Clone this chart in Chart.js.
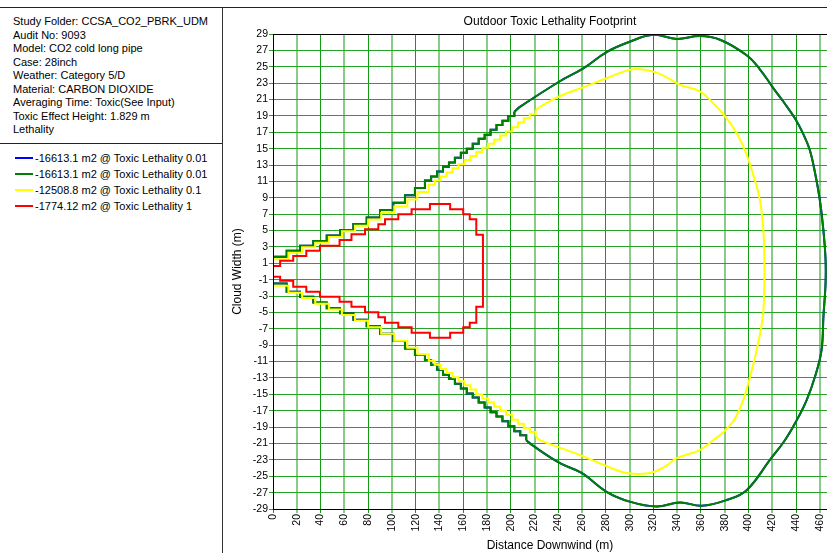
<!DOCTYPE html>
<html>
<head>
<meta charset="utf-8">
<script src="https://cdn.jsdelivr.net/npm/chart.js@4/dist/chart.umd.min.js"></script>
<style>
body{margin:0;background:#fff;font-family:"Liberation Sans",Arial,sans-serif;}
#wrap{position:relative;width:827px;height:553px;overflow:hidden;background:#fff}
#topline{position:absolute;left:0;top:7px;width:827px;height:1px;background:#222}
#panel{position:absolute;left:0;top:8px;width:222px;height:545px;border-right:1px solid #333}
#info{padding:7px 0 0 13px;height:128px;font-size:11px;line-height:13.5px;color:#000;border-bottom:1px solid #222}
#legend{padding:6px 0 0 15px;font-size:11px;line-height:16px;color:#000}
.swatch{display:inline-block;width:18px;height:2px;vertical-align:middle;margin-right:2px;position:relative;top:-1px}
#chart-div{position:absolute;left:224px;top:8px;width:603px;height:545px}
</style>
</head>
<body>
<div id="wrap">
  <div id="topline"></div>
  <div id="panel">
    <div id="info"></div>
    <div id="legend"></div>
  </div>
  <div id="chart-div"><canvas id="footprintChart" width="603" height="545"></canvas></div>
</div>
<script>
/* ---------------------------- Data --------------------------------------------- */

const infoLines = ['Study Folder: CCSA_CO2_PBRK_UDM','Audit No: 9093','Model: CO2 cold long pipe','Case: 28inch',
    'Weather: Category 5/D','Material: CARBON DIOXIDE','Averaging Time: Toxic(See Input)','Toxic Effect Height: 1.829 m','Lethality']

const seriesLabels = ['-16613.1 m2 @ Toxic Lethality 0.01','-16613.1 m2 @ Toxic Lethality 0.01',
    '-12508.8 m2 @ Toxic Lethality 0.1','-1774.12 m2 @ Toxic Lethality 1']
const seriesColors = ['#0000ff','#008000','#ffff00','#ff0000']

const xTicks = [0,20,40,60,80,100,120,140,160,180,200,220,240,260,280,300,320,340,360,380,400,420,440,460]
const yTicks = [-29,-27,-25,-23,-21,-19,-17,-15,-13,-11,-9,-7,-5,-3,-1,1,3,5,7,9,11,13,15,17,19,21,23,25,27,29]

// 0.01 lethality (green, blue lies under it)
const greenUpX  = [0,11.5,22.7,33.9,45.2,56.4,67.6,78.8,90,101.2,111,119.4,127.8,133,138,143,148,153,158,163,168,173,178,183,188,193,198,203]
const greenUpY  = [1.81,2.54,3.15,3.72,4.4,5.07,5.8,6.6,7.5,8.4,9.3,10.2,11.1,11.6,12.2,12.8,13.3,13.9,14.5,15.0,15.6,16.2,16.7,17.3,17.9,18.4,19.0,19.5]
const greenLowX = [0,11.5,22.7,33.9,45.2,56.4,67.6,78.8,90,101.2,111,119.4,127.8,133,138,143,148,153,158,163,168,173,178,183,188,193,198,203,208,213]
const greenLowY = [-1.45,-2.46,-3.07,-3.8,-4.5,-5.1,-5.9,-6.7,-7.6,-8.5,-9.4,-10.2,-10.8,-11.4,-12.0,-12.6,-13.1,-13.7,-14.3,-14.9,-15.4,-16.0,-16.6,-17.2,-17.7,-18.3,-18.9,-19.5,-20.0,-20.6]
const greenCurveX = [207.7,241,261,280.6,300,320,339.5,359,376,398.4,410,420.8,430,439,446,451.6,456,460,463,464.8,
    464.8,463,461.4,456,448.9,440,430.6,418,398.4,381.6,360.5,342.3,322.7,300,280.6,259.6,241.4,219]
const greenCurveY = [20.1,23.2,24.8,26.8,28.06,28.9,28.4,28.75,28.3,26.4,24.6,22.4,20.6,18.7,16.8,14.8,12,8.7,5,1.4,
    -1.4,-5.5,-9.6,-12.8,-15.7,-18.3,-20.6,-23,-26.7,-27.9,-28.6,-28.2,-28.7,-28.1,-26.9,-24.6,-23.4,-21.3]

// 0.1 lethality (yellow)
const yellowUpX  = [0,13,24.5,35.5,47,58,69,80,91,102,113,121.5,131,136,141,146,151,156,161,166,171,176,181,186,191,196,201,206,211,216,221]
const yellowUpY  = [1.5,2.3,2.95,3.5,4.2,4.9,5.6,6.35,7.15,7.95,8.8,9.7,10.6,11.1,11.6,12.1,12.6,13.1,13.6,14.1,14.6,15.1,15.6,16.1,16.6,17.1,17.6,18.2,18.7,19.2,19.7]
const yellowLowX = [0,13,24.5,35.5,47,58,69,80,91,102,113,121.5,131,136,141,146,151,156,161,166,171,176,181,186,191,196,201,206,211,216,221]
const yellowLowY = [-1.75,-2.6,-3.25,-3.95,-4.65,-5.3,-6.0,-6.8,-7.6,-8.45,-9.3,-10.1,-10.9,-11.4,-11.9,-12.4,-12.9,-13.4,-13.9,-14.4,-15.0,-15.5,-16.0,-16.5,-17.0,-17.5,-18.1,-18.6,-19.1,-19.6,-20.1]
const yellowCurveX = [224.6,241,261,280.6,303,320,330,342.3,359,370,381.6,390,397,404,409.6,412.5,413.3,
    413.3,412,406.8,401,395.5,388,379,370.3,359,339.5,330,317,297.5,277.8,258,241,224.6]
const yellowCurveY = [20.1,21.4,22.5,23.6,24.7,24.4,23.8,22.8,22,20.6,18.7,16.9,14.8,11.8,8.7,5,1.4,
    -1.4,-5.5,-9.6,-13,-15.7,-18.1,-19.6,-20.6,-21.8,-22.8,-23.8,-24.6,-24.6,-23.6,-22.4,-21.5,-20.6]

// 1 lethality (red, stepped)
const redStepX   = [0,6,17,28,39.5,56,66,77.4,88.6,94.2,105.4,116.6,132,149,160,165.5,171,176.6]
const redTopY    = [0.67,1.32,1.89,2.54,3.15,3.85,4.54,5.15,5.76,6.37,7.0,7.6,8.24,7.6,7.0,6.37,4.5]
const redBottomY = [-0.63,-1.12,-1.85,-2.46,-3.07,-3.68,-4.3,-4.98,-5.6,-6.25,-6.8,-7.47,-8.08,-7.47,-6.8,-6.25,-4.3]

/* ---------------------------- Side panel --------------------------------------------- */

document.getElementById('info').innerHTML = infoLines.map(t=>`<div>${t}</div>`).join('')
document.getElementById('legend').innerHTML = seriesLabels.map((t,i)=>
    `<div><span class="swatch" style="background:${seriesColors[i]}"></span>${t}</div>`).join('')

/* ---------------------------- Outlines --------------------------------------------- */

const stairs=(xs,ys)=>{
    const pts=[]
    xs.forEach((x,i)=>{
        if(i>0) pts.push({x:x,y:ys[i-1]})
        pts.push({x:x,y:ys[i]})
    })
    return pts
}

const stepOutline=(xs,top,bottom)=>{
    const pts=[]
    top.forEach((y,i)=>{ pts.push({x:xs[i],y:y},{x:xs[i+1],y:y}) })
    for(let i=bottom.length-1;i>=0;i--){
        pts.push({x:xs[i+1],y:bottom[i]},{x:xs[i],y:bottom[i]})
    }
    return pts
}

const lineSet=(i,pts,order,tension)=>({
    label:seriesLabels[i],
    data:pts,
    showLine:true,
    borderColor:seriesColors[i],
    backgroundColor:seriesColors[i],
    borderWidth:2,
    pointRadius:0,
    fill:false,
    tension:tension,
    order:order
})

// stairs near the source, smooth curve further out
const contourSets=(i,upX,upY,curveX,curveY,lowX,lowY,order)=>{
    const upper=stairs(upX,upY)
    const lower=stairs(lowX,lowY)
    const curve=[upper[upper.length-1]].concat(curveX.map((x,k)=>({x:x,y:curveY[k]})),[lower[lower.length-1]])
    return [lineSet(i,upper,order,0),lineSet(i,curve,order,0.4),lineSet(i,lower,order,0)]
}

/* ---------------------------- Chart --------------------------------------------- */

Chart.defaults.font.family='"Liberation Sans", Arial, sans-serif'
Chart.defaults.color='#000'

const gridDark='rgb(20,155,20)'
const gridLight='rgb(135,205,135)'

const frameTop={
    id:'frameTop',
    afterDraw(chart){
        const {ctx,chartArea}=chart
        ctx.save()
        ctx.strokeStyle='#000'
        ctx.lineWidth=1
        ctx.beginPath()
        ctx.moveTo(chartArea.left,chartArea.top+0.5)
        ctx.lineTo(chartArea.right,chartArea.top+0.5)
        ctx.stroke()
        ctx.restore()
    }
}

const config={
    type:'scatter',
    data:{
        datasets:[].concat(
            contourSets(0,greenUpX,greenUpY,greenCurveX,greenCurveY,greenLowX,greenLowY,4),
            contourSets(1,greenUpX,greenUpY,greenCurveX,greenCurveY,greenLowX,greenLowY,3),
            contourSets(2,yellowUpX,yellowUpY,yellowCurveX,yellowCurveY,yellowLowX,yellowLowY,2),
            [lineSet(3,stepOutline(redStepX,redTopY,redBottomY),1,0)]
        )
    },
    options:{
        responsive:false,
        animation:false,
        events:[],
        layout:{padding:0},
        plugins:{
            legend:{display:false},
            tooltip:{enabled:false},
            title:{
                display:true,
                fullSize:false,
                text:'Outdoor Toxic Lethality Footprint',
                font:{size:12,weight:'normal'},
                color:'#000',
                padding:{top:6,bottom:5.6}
            }
        },
        scales:{
            x:{
                type:'linear',
                min:0,
                max:466,
                afterBuildTicks:axis=>{ axis.ticks=xTicks.map(v=>({value:v})) },
                afterFit:axis=>{ axis.height=44; axis.paddingLeft=0; axis.paddingRight=0 },
                ticks:{
                    autoSkip:false,
                    minRotation:90,
                    maxRotation:90,
                    padding:1,
                    font:{size:10.5},
                    callback:v=>String(v)
                },
                grid:{
                    color:c=>c.index%2 ? gridLight : gridDark,
                    lineWidth:c=>c.index%2 ? 2 : 1,
                    tickLength:4
                },
                border:{display:true,color:'#000',width:1,z:1},
                title:{display:true,text:'Distance Downwind (m)',font:{size:12},padding:{top:0,bottom:0}}
            },
            y:{
                type:'linear',
                min:-29,
                max:29,
                afterBuildTicks:axis=>{ axis.ticks=yTicks.map(v=>({value:v})) },
                afterFit:axis=>{ axis.width=49; axis.paddingTop=0; axis.paddingBottom=0 },
                ticks:{
                    autoSkip:false,
                    padding:1,
                    font:{size:10.5},
                    callback:v=>String(v)
                },
                grid:{
                    color:'rgb(40,165,40)',
                    lineWidth:1,
                    tickLength:4
                },
                border:{display:true,color:'#000',width:1,z:1},
                title:{display:true,text:'Cloud Width (m)',font:{size:12},padding:{top:6,bottom:0}}
            }
        }
    },
    plugins:[frameTop]
}

const ctx=document.getElementById('footprintChart')
const footprintChart=new Chart(ctx,config)
</script>
</body>
</html>
